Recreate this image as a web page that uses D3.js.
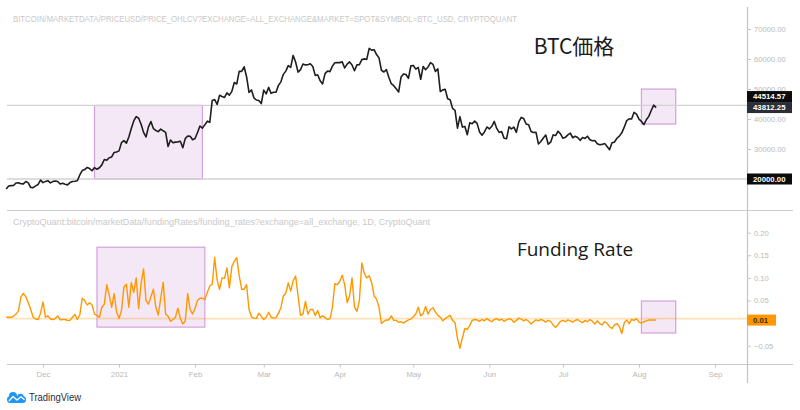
<!DOCTYPE html>
<html><head><meta charset="utf-8">
<script src="https://cdn.jsdelivr.net/npm/d3@7"></script>
<style>body{margin:0;background:#fff}svg{display:block}</style>
</head><body>
<svg id="c" width="800" height="410"></svg>
<script>
// ---------- DATA ----------
const startDate = "2020-11-16";
const priceValues = [
  // Nov 16-30
  16700,17650,17800,17820,18680,18710,18420,18370,19160,18720,17150,17140,17720,18180,19630,
  // Dec
  18800,19200,19450,18700,19150,19360,19170,18320,18550,18250,18040,18800,19140,19250,19430,21340,22800,23130,23850,23480,22740,23820,23240,23730,24710,26490,26280,27080,27360,28840,29000,
  // Jan
  29370,32130,32780,31970,33990,36820,39370,40790,40250,38240,35540,34010,37390,39150,36830,36180,35790,36630,36070,35550,30820,33010,32100,32290,32370,32570,30430,33470,34320,34270,33110,
  // Feb
  33520,35510,37670,36960,38100,39270,38900,46200,46480,44840,47910,47500,47170,48720,47940,49200,52150,51680,55890,55890,57410,54090,48890,49680,47060,46340,46190,45140,
  // Mar
  49630,48380,50540,48560,48930,48910,51210,52380,54880,55960,57770,57230,61190,59000,55640,56470,58330,58030,58100,58410,57520,54530,54740,52770,51700,55140,55970,55790,57630,58760,58800,
  // Apr
  58790,59040,57020,58300,59040,58010,56100,58050,58140,59790,60040,59860,63540,62970,63110,61490,60380,56250,55660,56470,53890,51760,51090,50050,49000,54020,55030,54820,53550,57750,
  // May
  57830,56630,57210,53240,57510,56440,57350,58800,58230,55860,56700,49150,49720,49880,46760,46430,43540,42910,36960,40780,37300,37530,34770,38710,38400,39290,38550,35680,34620,35680,37340,
  // Jun
  36690,37570,39190,36850,35520,35800,33590,33400,37390,36690,37310,35550,39020,40530,40140,38340,38090,35820,35480,35600,31680,32510,33680,34660,31590,32280,34700,34490,35910,35040,
  // Jul
  33570,33900,34690,35290,33750,34230,33860,32880,33820,33520,34260,33090,32730,32820,31780,31420,31530,31800,30820,29790,32110,32290,33580,34290,35390,37270,39460,40030,40010,42240,41630,
  // Aug 1-8
  39970,39200,38150,39750,40870,42830,44610,43812.25
];
const fundingValues = [
  0.013,0.013,0.013,0.015,0.02,0.027,0.058,0.066,0.058,0.045,
  0.03,0.013,0.009,0.008,0.022,0.047,0.013,0.016,0.009,0.008,
  0.01,0.016,0.007,0.008,0.008,0.006,0.006,0.013,0.019,0.008,
  0.018,0.055,0.05,0.04,0.045,0.04,0.02,0.017,0.013,0.035,
  0.042,0.085,0.062,0.035,0.065,0.025,0.01,0.028,0.08,0.086,
  0.035,0.09,0.068,0.1,0.032,0.088,0.12,0.05,0.042,0.058,
  0.075,0.035,0.018,0.055,0.09,0.02,0.015,0.004,0.008,0.013,
  0.033,0.01,-0.002,0.005,0.065,0.03,0.02,0.033,0.05,0.055,
  0.055,0.052,0.068,0.082,0.086,0.145,0.095,0.075,0.1,0.099,
  0.122,0.078,0.125,0.137,0.145,0.105,0.075,0.075,0.085,0.03,
  0.014,0.011,0.010,0.022,0.015,0.008,0.013,0.024,0.013,0.011,
  0.012,0.022,0.034,0.06,0.066,0.089,0.071,0.094,0.104,0.06,
  0.017,0.02,0.048,0.02,0.03,0.03,0.017,0.028,0.012,0.016,
  0.012,0.008,0.01,0.035,0.087,0.085,0.092,0.106,0.085,0.045,
  0.06,0.1,0.036,0.026,0.05,0.133,0.11,0.1,0.105,0.09,
  0.06,0.053,0.035,-0.001,0.004,0.007,0.007,0.016,0.006,0.006,
  0.002,0.003,0.0,0.004,0.007,0.009,0.014,0.02,0.035,0.016,
  0.021,0.037,0.02,0.03,0.034,0.025,0.017,0.013,0.005,0.01,
  0.014,0.017,0.006,0.001,-0.034,-0.056,-0.032,-0.012,-0.014,-0.005,
  0.006,0.008,0.007,0.004,0.008,0.005,0.010,0.006,0.003,0.008,
  0.010,0.006,0.009,0.004,0.007,0.010,0.008,0.002,0.006,0.011,
  0.009,0.005,0.008,0.004,-0.002,0.003,0.007,0.005,0.008,0.006,
  0.002,0.006,0.004,-0.004,-0.010,-0.003,0.004,0.006,0.003,0.007,
  0.005,0.002,0.006,0.008,0.004,0.001,0.006,0.003,0.008,0.004,
  -0.002,0.005,-0.001,-0.004,0.003,0.0,-0.008,-0.012,-0.004,-0.001,
  -0.008,-0.023,0.001,0.007,-0.001,0.008,0.006,0.01,0.002,0.0,
  0.003,0.005,0.007,0.007,0.007,0.007
];
const priceTicks = [30000, 40000, 50000, 60000, 70000];
const fundingTicks = [-0.05, 0.05, 0.10, 0.15, 0.20];
const monthTicks = ["2020-12-01","2021-01-01","2021-02-01","2021-03-01","2021-04-01","2021-05-01","2021-06-01","2021-07-01","2021-08-01","2021-09-01"];
const monthLabels = ["Dec","2021","Feb","Mar","Apr","May","Jun","Jul","Aug","Sep"];
const priceLevels = [44514.57, 20000];
const lastPrice = 43812.25;
const fundingLevel = 0.01;
// highlight boxes: [start date, end date, top value, bottom value]
const priceBoxes = [["2020-12-22","2021-02-04",44514.57,20000],["2021-08-02","2021-08-16",50000,38300]];
const fundingBoxes = [["2020-12-23","2021-02-05",0.168,-0.009],["2021-08-02","2021-08-16",0.049,-0.022]];
const priceTitle = "BITCOIN/MARKETDATA/PRICEUSD/PRICE_OHLCV?EXCHANGE=ALL_EXCHANGE&MARKET=SPOT&SYMBOL=BTC_USD, CRYPTOQUANT";
const fundingTitle = "CryptoQuant:bitcoin/marketData/fundingRates/funding_rates?exchange=all_exchange, 1D, CryptoQuant";

// ---------- CHART ----------
const parse = d3.utcParse("%Y-%m-%d");
const t0 = parse(startDate);
const dates = priceValues.map((_, i) => d3.utcDay.offset(t0, i));

const svg = d3.select("#c");
const F = "'Liberation Sans', Arial, sans-serif";
const axisX = 747, leftX = 7, rightEdge = 793;

const x = d3.scaleUtc().domain([parse("2020-12-01"), parse("2021-09-01")]).range([43, 715]);
const yP = d3.scaleLinear().domain([20000, 70000]).range([179, 29]);
const yF = d3.scaleLinear().domain([-0.05, 0.20]).range([345.7, 232.7]);

// pane frame lines
svg.append("line").attr("x1", leftX).attr("x2", rightEdge).attr("y1", 210.5).attr("y2", 210.5).attr("stroke", "#cfcfcf").attr("stroke-width", 1.2);
svg.append("line").attr("x1", leftX).attr("x2", rightEdge).attr("y1", 364.5).attr("y2", 364.5).attr("stroke", "#c8c8c8").attr("stroke-width", 1.2);
svg.append("line").attr("x1", axisX + 0.5).attr("x2", axisX + 0.5).attr("y1", 7).attr("y2", 383).attr("stroke", "#c4c4c4").attr("stroke-width", 1.2);

// highlight boxes
function boxes(list, y) {
  svg.append("g").selectAll("rect").data(list).join("rect")
    .attr("x", d => x(parse(d[0])))
    .attr("width", d => x(parse(d[1])) - x(parse(d[0])))
    .attr("y", d => y(d[2]))
    .attr("height", d => y(d[3]) - y(d[2]))
    .attr("fill", "rgba(156,39,176,0.11)")
    .attr("stroke", "rgba(156,39,176,0.4)")
    .attr("stroke-width", 1.2);
}
boxes(priceBoxes, yP);
boxes(fundingBoxes, yF);

// level lines
svg.append("g").selectAll("line").data(priceLevels).join("line")
  .attr("x1", leftX).attr("x2", axisX)
  .attr("y1", d => yP(d)).attr("y2", d => yP(d))
  .attr("stroke", "#d2d2d2").attr("stroke-width", 1.3);
svg.append("line").attr("x1", leftX).attr("x2", axisX)
  .attr("y1", yF(fundingLevel)).attr("y2", yF(fundingLevel))
  .attr("stroke", "rgba(255,152,0,0.28)").attr("stroke-width", 1.6);

// series
svg.append("path").datum(priceValues)
  .attr("fill", "none").attr("stroke", "#1e1e1e").attr("stroke-width", 1.6).attr("stroke-linejoin", "round")
  .attr("d", d3.line().x((d, i) => x(dates[i])).y(d => yP(d)));
svg.append("path").datum(fundingValues)
  .attr("fill", "none").attr("stroke", "#ff9800").attr("stroke-width", 1.4).attr("stroke-linejoin", "round")
  .attr("d", d3.line().x((d, i) => x(dates[i])).y(d => yF(d)));

// right axes
function styleAxis(g) {
  g.select(".domain").remove();
  g.selectAll(".tick line").attr("stroke", "#c4c4c4");
  g.selectAll(".tick text").attr("fill", "#b9b9b9").attr("font-family", F).attr("font-size", 7.6);
}
svg.append("g").attr("transform", `translate(${axisX},0)`)
  .call(d3.axisRight(yP).tickValues(priceTicks).tickSize(4).tickPadding(3).tickFormat(d3.format(".2f")))
  .call(styleAxis);
svg.append("g").attr("transform", `translate(${axisX},0)`)
  .call(d3.axisRight(yF).tickValues(fundingTicks).tickSize(4).tickPadding(3).tickFormat(d => d < 0 ? "\u2212" + d3.format(".2f")(-d) : d3.format(".2f")(d)))
  .call(styleAxis);

// bottom axis
const xa = svg.append("g").attr("transform", "translate(0,364.5)")
  .call(d3.axisBottom(x).tickValues(monthTicks.map(parse)).tickSize(3).tickPadding(4)
    .tickFormat((d, i) => monthLabels[i]));
xa.select(".domain").remove();
xa.selectAll(".tick line").attr("stroke", "#c4c4c4");
xa.selectAll(".tick text").attr("fill", "#b9b9b9").attr("font-family", F).attr("font-size", 7.8);

// axis value labels
function valueLabel(yc, text, bg, fg, w) {
  const h = 11;
  svg.append("rect").attr("x", axisX).attr("y", yc - h / 2).attr("width", w).attr("height", h).attr("fill", bg);
  svg.append("text").attr("x", axisX + 6).attr("y", yc + 2.8).text(text)
    .attr("fill", fg).attr("font-family", F).attr("font-size", 7.8).attr("font-weight", 600);
}
const yLast = yP(lastPrice);
valueLabel(yLast, d3.format(".2f")(lastPrice), "#2a2e39", "#ffffff", 45);
valueLabel(yLast - 11, d3.format(".2f")(priceLevels[0]), "#0c0c0c", "#ffffff", 45);
valueLabel(yP(priceLevels[1]), d3.format(".2f")(priceLevels[1]), "#0c0c0c", "#ffffff", 45);
valueLabel(yF(fundingLevel) + 1.5, d3.format(".2f")(fundingLevel), "#ff9800", "#3a2a10", 29);

// titles
svg.append("text").attr("x", 13).attr("y", 21.5).text(priceTitle)
  .attr("fill", "#c9c9c9").attr("font-family", F).attr("font-size", 9)
  .attr("textLength", 504).attr("lengthAdjust", "spacingAndGlyphs");
svg.append("text").attr("x", 13).attr("y", 224.5).text(fundingTitle)
  .attr("fill", "#c9c9c9").attr("font-family", F).attr("font-size", 9)
  .attr("textLength", 417).attr("lengthAdjust", "spacingAndGlyphs");

svg.append("text").attr("x", 574).attr("y", 54).attr("text-anchor", "middle").text("BTC価格")
  .attr("fill", "#1a1a1a").attr("font-family", "'Noto Sans CJK JP', 'Noto Sans', sans-serif").attr("font-size", 21);
svg.append("text").attr("x", 575).attr("y", 256).attr("text-anchor", "middle").text("Funding Rate")
  .attr("fill", "#1a1a1a").attr("font-family", "'Open Sans', 'Noto Sans', sans-serif").attr("font-size", 19);

// TradingView logo
const logo = svg.append("g");
logo.append("rect").attr("x", 7).attr("y", 396).attr("width", 19).attr("height", 7).attr("rx", 3.5).attr("fill", "#2196f3");
logo.append("circle").attr("cx", 13).attr("cy", 396).attr("r", 4).attr("fill", "#2196f3");
logo.append("circle").attr("cx", 20.5).attr("cy", 397).attr("r", 3.2).attr("fill", "#2196f3");
logo.append("path").attr("d", "M9,401 L13,396.5 L17,400 L21,396.8 L24.5,399.8")
  .attr("fill", "none").attr("stroke", "#fff").attr("stroke-width", 1.3).attr("stroke-linejoin", "round");
svg.append("text").attr("x", 29).attr("y", 401).text("TradingView")
  .attr("fill", "#2a2e39").attr("font-family", F).attr("font-size", 10.5)
  .attr("textLength", 52).attr("lengthAdjust", "spacingAndGlyphs");
</script>
</body></html>
